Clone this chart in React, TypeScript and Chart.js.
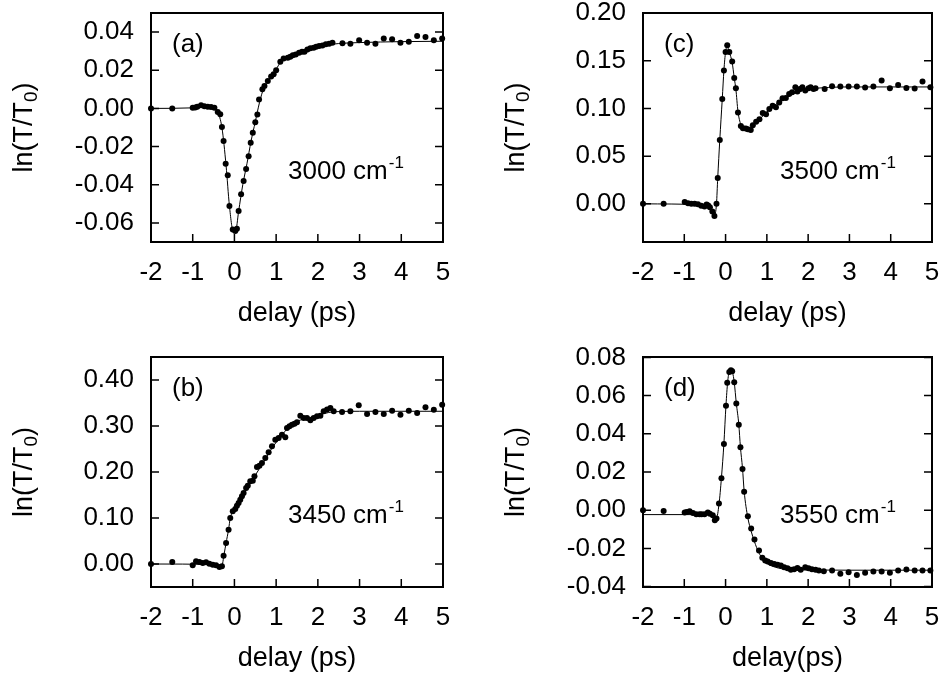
import React, { useEffect, useRef } from "react";
import { Chart, registerables } from "chart.js";

Chart.register(...registerables);

const FONT = '"Liberation Sans", Arial, Helvetica, sans-serif';

// ---------- shared axis values ----------
const xTickValues = [-2, -1, 0, 1, 2, 3, 4, 5];

// ---------- panel (a) 3000 cm-1 ----------
const aDelay = [
  -2.0, -1.49, -1.0, -0.94, -0.89, -0.8, -0.72, -0.64, -0.56, -0.48,
  -0.4, -0.34, -0.3, -0.26, -0.21, -0.16, -0.12, -0.04, 0.02, 0.06,
  0.1, 0.16, 0.22, 0.28, 0.34, 0.39, 0.44, 0.5, 0.55, 0.59,
  0.67, 0.72, 0.8, 0.88, 0.94, 1.0, 1.1, 1.18, 1.28, 1.34,
  1.4, 1.47, 1.55, 1.62, 1.68, 1.75, 1.82, 1.9, 1.96, 2.03,
  2.11, 2.19, 2.27, 2.35, 2.59, 2.78, 2.99, 3.18, 3.38, 3.58,
  3.78, 3.98, 4.18, 4.38, 4.58, 4.78, 4.98,
];
const aSignal = [
  0.0, 0.0, 0.0003, 0.0005, 0.0009, 0.0016, 0.0012, 0.0009, 0.0007, 0.0003,
  -0.0019, -0.0031, -0.0098, -0.0171, -0.029, -0.035, -0.0512, -0.0635, -0.0642, -0.0631,
  -0.0537, -0.045, -0.038, -0.0318, -0.025, -0.018, -0.0128, -0.0072, -0.0032, 0.0047,
  0.01, 0.0118, 0.0144, 0.0167, 0.0179, 0.02, 0.0245, 0.0262, 0.0266, 0.0271,
  0.0278, 0.0283, 0.0292, 0.0297, 0.0297, 0.0309, 0.0315, 0.0318, 0.0323, 0.0327,
  0.033, 0.0336, 0.0339, 0.0344, 0.0341, 0.0339, 0.0357, 0.0344, 0.0339, 0.0367,
  0.0362, 0.0344, 0.035, 0.0379, 0.0374, 0.0357, 0.0367,
];
const aFitDelay = [
  -2, -1, -0.8, -0.5, -0.4, -0.3, -0.2, -0.12, -0.03, 0.03,
  0.1, 0.2, 0.3, 0.4, 0.5, 0.6, 0.7, 0.8, 0.9, 1.0,
  1.1, 1.3, 1.5, 1.75, 2.0, 2.5, 3.0, 4.0, 5.0,
];
const aFitSignal = [
  0, 0.0003, 0.0012, 0.0005, -0.002, -0.01, -0.03, -0.051, -0.064, -0.064,
  -0.054, -0.04, -0.029, -0.017, -0.007, 0.003, 0.0105, 0.0145, 0.0175, 0.0205,
  0.024, 0.027, 0.029, 0.031, 0.0325, 0.034, 0.0345, 0.035, 0.0352,
];
const aYTicks = [-0.06, -0.04, -0.02, 0, 0.02, 0.04];

// ---------- panel (c) 3500 cm-1 ----------
const cDelay = [
  -2.0, -1.5, -0.99, -0.91, -0.83, -0.75, -0.67, -0.59, -0.51, -0.46,
  -0.42, -0.38, -0.32, -0.27, -0.22, -0.19, -0.14, -0.08, -0.04, 0.0,
  0.04, 0.09, 0.16, 0.21, 0.25, 0.3, 0.37, 0.42, 0.49, 0.54,
  0.61, 0.66, 0.74, 0.82, 0.9, 0.98, 1.06, 1.14, 1.22, 1.3,
  1.38, 1.46, 1.54, 1.61, 1.69, 1.74, 1.8, 1.86, 1.93, 2.01,
  2.06, 2.13, 2.18, 2.4, 2.58, 2.78, 2.98, 3.18, 3.38, 3.58,
  3.78, 3.98, 4.18, 4.38, 4.58, 4.77, 4.96,
];
const cSignal = [
  0.0, 0.0, 0.0018, 0.0007, 0.0, 0.0, -0.0004, -0.0021, -0.0028, -0.0007,
  -0.0018, -0.0035, -0.0081, -0.0127, 0.0, 0.0271, 0.0669, 0.1099, 0.1398, 0.1592,
  0.1662, 0.1592, 0.1493, 0.132, 0.1211, 0.0958, 0.0817, 0.0792, 0.0789, 0.0782,
  0.0775, 0.0824, 0.0859, 0.0887, 0.0951, 0.094, 0.0993, 0.1028, 0.1011, 0.1063,
  0.1106, 0.1109, 0.1151, 0.1169, 0.1222, 0.1176, 0.1204, 0.1222, 0.1187, 0.1211,
  0.1222, 0.1204, 0.1211, 0.1204, 0.1232, 0.1229, 0.1229, 0.1229, 0.1218, 0.1229,
  0.1292, 0.1211, 0.1246, 0.1215, 0.1208, 0.1282, 0.1222,
];
const cFitDelay = [
  -2, -0.6, -0.45, -0.35, -0.27, -0.22, -0.19, -0.14, -0.08, -0.04,
  0.0, 0.04, 0.09, 0.16, 0.21, 0.25, 0.3, 0.37, 0.45, 0.55,
  0.7, 0.9, 1.1, 1.3, 1.5, 1.75, 2.0, 2.5, 3.0, 5.0,
];
const cFitSignal = [
  0, -0.001, -0.002, -0.005, -0.012, 0.0, 0.027, 0.067, 0.11, 0.14,
  0.159, 0.165, 0.159, 0.148, 0.132, 0.12, 0.097, 0.083, 0.078, 0.078,
  0.083, 0.092, 0.1, 0.107, 0.112, 0.117, 0.12, 0.122, 0.1225, 0.1225,
];
const cYTicks = [0, 0.05, 0.1, 0.15, 0.2];

// ---------- panel (b) 3450 cm-1 ----------
const bDelay = [
  -2.0, -1.49, -1.0, -0.92, -0.84, -0.76, -0.68, -0.6, -0.52, -0.44,
  -0.36, -0.3, -0.26, -0.2, -0.14, -0.1, -0.04, 0.02, 0.06, 0.1,
  0.14, 0.18, 0.22, 0.28, 0.32, 0.38, 0.44, 0.48, 0.54, 0.6,
  0.66, 0.74, 0.82, 0.9, 0.98, 1.06, 1.14, 1.22, 1.26, 1.32,
  1.38, 1.44, 1.5, 1.58, 1.66, 1.74, 1.82, 1.9, 1.98, 2.06,
  2.14, 2.22, 2.3, 2.38, 2.58, 2.78, 2.98, 3.18, 3.38, 3.58,
  3.78, 3.98, 4.18, 4.38, 4.58, 4.78, 4.98,
];
const bSignal = [
  0.0, 0.0044, -0.0029, 0.0058, 0.0044, 0.0022, 0.0036, 0.0007, -0.0015, -0.0029,
  -0.0065, -0.0051, 0.0181, 0.0457, 0.0746, 0.1, 0.1145, 0.1196, 0.1268, 0.1326,
  0.1399, 0.1471, 0.1543, 0.1652, 0.1703, 0.1797, 0.1812, 0.1906, 0.2109, 0.2138,
  0.2196, 0.2304, 0.2428, 0.2558, 0.2703, 0.2739, 0.2812, 0.2754, 0.2957, 0.2993,
  0.3029, 0.3051, 0.308, 0.3225, 0.3174, 0.3174, 0.3123, 0.3174, 0.321, 0.3225,
  0.3319, 0.3356, 0.3392, 0.3319, 0.3304, 0.3319, 0.3449, 0.3261, 0.3304, 0.3261,
  0.3333, 0.3246, 0.3333, 0.3283, 0.3406, 0.3355, 0.3464,
];
const bFitDelay = [
  -2, -0.5, -0.3, -0.25, -0.2, -0.14, -0.1, -0.04, 0.1, 0.3,
  0.5, 0.7, 0.9, 1.1, 1.3, 1.5, 1.8, 2.1, 2.4, 3.0, 5.0,
];
const bFitSignal = [
  0, -0.001, -0.003, 0.02, 0.046, 0.075, 0.1, 0.113, 0.132, 0.165,
  0.193, 0.222, 0.252, 0.276, 0.297, 0.31, 0.318, 0.326, 0.331, 0.332, 0.332,
];
const bYTicks = [0, 0.1, 0.2, 0.3, 0.4];

// ---------- panel (d) 3550 cm-1 ----------
const dDelay = [
  -2.0, -1.5, -0.99, -0.94, -0.87, -0.79, -0.71, -0.63, -0.58, -0.51,
  -0.43, -0.38, -0.31, -0.26, -0.22, -0.16, -0.1, -0.04, 0.01, 0.04,
  0.09, 0.13, 0.16, 0.21, 0.26, 0.32, 0.36, 0.41, 0.45, 0.54,
  0.62, 0.7, 0.81, 0.89, 0.96, 1.02, 1.1, 1.18, 1.26, 1.34,
  1.42, 1.5, 1.58, 1.66, 1.74, 1.82, 1.93, 2.01, 2.09, 2.18,
  2.26, 2.38, 2.58, 2.78, 2.98, 3.18, 3.38, 3.58, 3.78, 3.98,
  4.18, 4.38, 4.58, 4.77, 4.96,
];
const dSignal = [
  0.0, -0.0004, -0.0012, -0.0009, -0.0005, -0.0014, -0.0021, -0.0021, -0.0021, -0.0021,
  -0.0012, -0.0018, -0.0026, -0.0053, -0.0044, 0.0035, 0.0167, 0.0346, 0.0547, 0.0667,
  0.0723, 0.0733, 0.0728, 0.067, 0.0558, 0.0447, 0.033, 0.0216, 0.0096, -0.0032,
  -0.0096, -0.0154, -0.0211, -0.0249, -0.0263, -0.0268, -0.0277, -0.0281, -0.0286, -0.0289,
  -0.0298, -0.0304, -0.0312, -0.0309, -0.0302, -0.0312, -0.0298, -0.0304, -0.0309, -0.0312,
  -0.0316, -0.0319, -0.0316, -0.0333, -0.0325, -0.0339, -0.0328, -0.0321, -0.0321, -0.0328,
  -0.0316, -0.0311, -0.0316, -0.0316, -0.0316,
];
const dFitDelay = [
  -2, -0.5, -0.3, -0.22, -0.16, -0.1, -0.04, 0.01, 0.05, 0.09,
  0.13, 0.17, 0.21, 0.26, 0.32, 0.36, 0.41, 0.45, 0.54, 0.62,
  0.7, 0.8, 0.9, 1.0, 1.2, 1.5, 2.0, 3.0, 5.0,
];
const dFitSignal = [
  -0.0023, -0.0023, -0.0028, -0.004, 0.003, 0.017, 0.035, 0.055, 0.067, 0.0725,
  0.073, 0.072, 0.067, 0.056, 0.045, 0.033, 0.022, 0.01, -0.004, -0.011,
  -0.0165, -0.022, -0.0255, -0.0278, -0.0298, -0.031, -0.0313, -0.0314, -0.0314,
];
const dYTicks = [-0.04, -0.02, 0, 0.02, 0.04, 0.06, 0.08];

// ---------- panel layout ----------
type PanelCfg = {
  key: string;
  label: string;
  freq: string;
  xTitle: string;
  delay: number[];
  signal: number[];
  fitDelay: number[];
  fitSignal: number[];
  yTicks: number[];
  yMin: number;
  yMax: number;
  left: number;
  top: number;
  w: number;
  h: number;
  area: { l: number; t: number; r: number; b: number };
};

const panels: PanelCfg[] = [
  {
    key: "a", label: "(a)", freq: "3000", xTitle: "delay (ps)",
    delay: aDelay, signal: aSignal, fitDelay: aFitDelay, fitSignal: aFitSignal,
    yTicks: aYTicks, yMin: -0.07, yMax: 0.05,
    left: 0, top: 0, w: 472, h: 337, area: { l: 151, t: 13, r: 443, b: 242 },
  },
  {
    key: "c", label: "(c)", freq: "3500", xTitle: "delay (ps)",
    delay: cDelay, signal: cSignal, fitDelay: cFitDelay, fitSignal: cFitSignal,
    yTicks: cYTicks, yMin: -0.04, yMax: 0.2,
    left: 472, top: 0, w: 473, h: 337, area: { l: 171, t: 13, r: 460, b: 242 },
  },
  {
    key: "b", label: "(b)", freq: "3450", xTitle: "delay (ps)",
    delay: bDelay, signal: bSignal, fitDelay: bFitDelay, fitSignal: bFitSignal,
    yTicks: bYTicks, yMin: -0.05, yMax: 0.45,
    left: 0, top: 337, w: 472, h: 338, area: { l: 151, t: 20, r: 443, b: 250 },
  },
  {
    key: "d", label: "(d)", freq: "3550", xTitle: "delay(ps)",
    delay: dDelay, signal: dSignal, fitDelay: dFitDelay, fitSignal: dFitSignal,
    yTicks: dYTicks, yMin: -0.0402, yMax: 0.0802,
    left: 472, top: 337, w: 473, h: 338, area: { l: 171, t: 20, r: 460, b: 250 },
  },
];

const framePlugin = {
  id: "frame",
  afterDraw(chart: any, _args: any, opts: any) {
    const { ctx, chartArea } = chart;
    const { left, top, right, bottom } = chartArea;
    const xs = chart.scales.x;
    const ys = chart.scales.y;
    ctx.save();
    ctx.strokeStyle = "#000";
    ctx.lineWidth = 1.5;
    ctx.beginPath();
    xs.ticks.forEach((t: any) => {
      const px = xs.getPixelForValue(t.value);
      ctx.moveTo(px, bottom);
      ctx.lineTo(px, bottom - 8);
    });
    ys.ticks.forEach((t: any) => {
      const py = ys.getPixelForValue(t.value);
      ctx.moveTo(left, py);
      ctx.lineTo(left + 8, py);
      ctx.moveTo(right, py);
      ctx.lineTo(right - 8, py);
    });
    ctx.stroke();
    ctx.lineWidth = 2;
    ctx.strokeRect(left, top, right - left, bottom - top);

    ctx.fillStyle = "#000";
    ctx.textAlign = "left";
    ctx.textBaseline = "alphabetic";

    // y title with subscript
    ctx.save();
    ctx.translate(left - 129, (top + bottom) / 2);
    ctx.rotate(-Math.PI / 2);
    const big = `27px ${FONT}`;
    const small = `19px ${FONT}`;
    ctx.font = big;
    const w1 = ctx.measureText("ln(T/T").width;
    const w3 = ctx.measureText(")").width;
    ctx.font = small;
    const w2 = ctx.measureText("0").width;
    let x0 = -(w1 + w2 + w3) / 2;
    const base = 9.5;
    ctx.font = big;
    ctx.fillText("ln(T/T", x0, base);
    x0 += w1;
    ctx.font = small;
    ctx.fillText("0", x0, base + 5);
    x0 += w2;
    ctx.font = big;
    ctx.fillText(")", x0, base);
    ctx.restore();

    // x title
    ctx.font = `27px ${FONT}`;
    ctx.textAlign = "center";
    ctx.fillText(opts.xTitle, (left + right) / 2, bottom + 79);

    // panel label
    ctx.textAlign = "left";
    ctx.font = `26px ${FONT}`;
    ctx.fillText(opts.label, left + 21, top + 39);

    // frequency annotation
    const main = `${opts.freq} cm`;
    ctx.font = `26px ${FONT}`;
    const mw = ctx.measureText(main).width;
    ctx.fillText(main, left + 137, top + 166);
    ctx.font = `17px ${FONT}`;
    ctx.fillText("-1", left + 137 + mw + 1, top + 155);
    ctx.restore();
  },
};

function Panel({ cfg }: { cfg: PanelCfg }) {
  const ref = useRef<HTMLCanvasElement | null>(null);
  useEffect(() => {
    if (!ref.current) return;
    const { area, w, h } = cfg;
    const chart = new Chart(ref.current, {
      type: "scatter",
      data: {
        datasets: [
          {
            label: "fit",
            data: cfg.fitDelay.map((x, i) => ({ x, y: cfg.fitSignal[i] })),
            showLine: true,
            borderColor: "#000",
            borderWidth: 1,
            pointRadius: 0,
            cubicInterpolationMode: "monotone",
            clip: false,
          } as any,
          {
            label: "data",
            data: cfg.delay.map((x, i) => ({ x, y: cfg.signal[i] })),
            showLine: false,
            pointRadius: 3,
            pointBackgroundColor: "#000",
            pointBorderWidth: 0,
            borderColor: "#000",
            clip: false,
          } as any,
        ],
      },
      options: {
        responsive: false,
        animation: false,
        devicePixelRatio: 1,
        layout: { padding: { left: 0, top: area.t, right: w - area.r, bottom: 0 } },
        plugins: {
          legend: { display: false },
          tooltip: { enabled: false },
          frame: { xTitle: cfg.xTitle, label: cfg.label, freq: cfg.freq },
        } as any,
        scales: {
          x: {
            type: "linear",
            min: -2,
            max: 5,
            grid: { display: false, drawTicks: false },
            border: { display: false },
            afterBuildTicks: (s: any) => {
              s.ticks = xTickValues.map((v) => ({ value: v }));
            },
            afterFit: (s: any) => {
              s.height = h - area.b;
              s.paddingLeft = 0;
              s.paddingRight = 0;
              s.paddingTop = 0;
              s.paddingBottom = 0;
            },
            ticks: {
              padding: 15,
              color: "#000",
              font: { family: FONT, size: 26 },
              maxRotation: 0,
              autoSkip: false,
              callback: (v: any) => String(v),
            },
          },
          y: {
            type: "linear",
            min: cfg.yMin,
            max: cfg.yMax,
            grid: { display: false, drawTicks: false },
            border: { display: false },
            afterBuildTicks: (s: any) => {
              s.ticks = cfg.yTicks.map((v) => ({ value: v }));
            },
            afterFit: (s: any) => {
              s.width = area.l;
              s.paddingLeft = 0;
              s.paddingRight = 0;
              s.paddingTop = 0;
              s.paddingBottom = 0;
            },
            ticks: {
              padding: 17,
              color: "#000",
              font: { family: FONT, size: 26 },
              autoSkip: false,
              callback: (v: any) => Number(v).toFixed(2),
            },
          },
        },
      },
      plugins: [framePlugin],
    });
    return () => chart.destroy();
  }, [cfg]);
  return (
    <div style={{ position: "absolute", left: cfg.left, top: cfg.top, width: cfg.w, height: cfg.h }}>
      <canvas ref={ref} width={cfg.w} height={cfg.h} style={{ width: cfg.w, height: cfg.h, display: "block" }} />
    </div>
  );
}

export default function App() {
  return (
    <div style={{ position: "absolute", left: 0, top: 0, width: 945, height: 675, background: "#fff" }}>
      {panels.map((p) => (
        <Panel key={p.key} cfg={p} />
      ))}
    </div>
  );
}
